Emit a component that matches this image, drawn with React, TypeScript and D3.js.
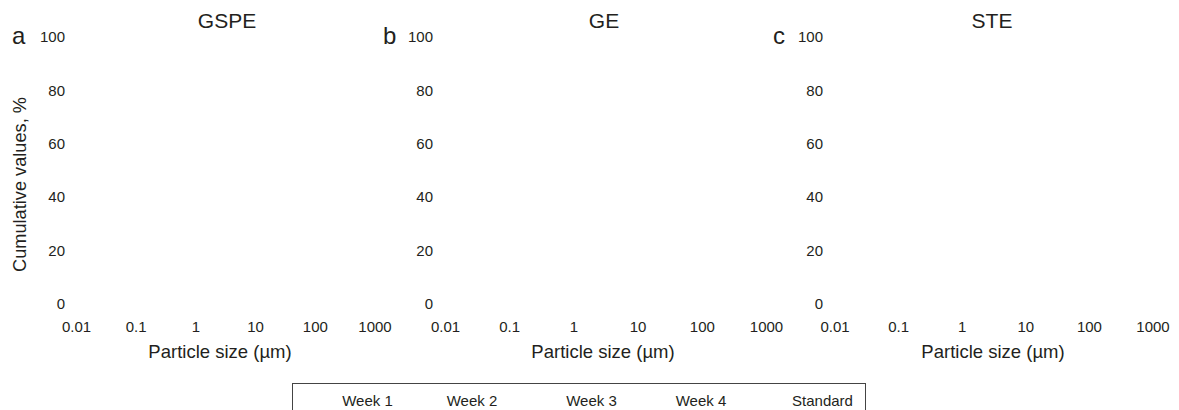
import React, { useEffect, useRef } from 'react';
import * as d3 from 'd3';

const panelTitles = ['GSPE', 'GE', 'STE'];
const panelLetters = ['a', 'b', 'c'];
const xTicks = [0.01, 0.1, 1, 10, 100, 1000];
const yTicks = [0, 20, 40, 60, 80, 100];
const legendLabels = ['Week 1', 'Week 2', 'Week 3', 'Week 4', 'Standard'];

const WIDTH = 1179;
const HEIGHT = 410;
const FONT = "'Liberation Sans', Arial, Helvetica, sans-serif";
const INK = '#231f20';

// per panel layout: x of first / last tick label, right edge of y labels, letter x, title centre
const panelLayout = [
  { x0: 76, x1: 374.5, yLab: 65, letter: 12, title: 227, axisTitle: 220 },
  { x0: 445, x1: 766, yLab: 433, letter: 383, title: 604, axisTitle: 603 },
  { x0: 834.5, x1: 1152.5, yLab: 823, letter: 773, title: 992, axisTitle: 993 },
];
const legendX = [367.5, 472, 591.5, 701, 822.5];

function ParticleCharts() {
  const svgRef = useRef<SVGSVGElement>(null);

  useEffect(() => {
    const svg = d3.select(svgRef.current);
    svg.selectAll('*').remove();

    const yScale = d3.scaleLinear().domain([0, 100]).range([303.5, 37]);

    panelTitles.forEach((title, i) => {
      const lay = panelLayout[i];
      const xScale = d3.scaleLog().domain([0.01, 1000]).range([lay.x0, lay.x1]);
      const g = svg.append('g');

      // y axis labels only
      const yAxis = g.append('g')
        .attr('transform', `translate(${lay.yLab},0)`)
        .call(d3.axisLeft(yScale).tickValues(yTicks).tickSize(0).tickPadding(0));
      yAxis.select('.domain').remove();

      // x axis labels only
      const xAxis = g.append('g')
        .attr('transform', 'translate(0,321)')
        .call(d3.axisBottom(xScale).tickValues(xTicks).tickSize(0).tickPadding(0).tickFormat(d => String(d)));
      xAxis.select('.domain').remove();

      g.selectAll('.tick text')
        .attr('font-family', FONT)
        .attr('font-size', 15)
        .attr('fill', INK);

      g.append('text')
        .attr('x', lay.title)
        .attr('y', 28)
        .attr('text-anchor', 'middle')
        .attr('font-family', FONT)
        .attr('font-size', 21)
        .attr('fill', INK)
        .text(title);

      g.append('text')
        .attr('x', lay.letter)
        .attr('y', 44)
        .attr('font-family', FONT)
        .attr('font-size', 24)
        .attr('fill', INK)
        .text(panelLetters[i]);

      g.append('text')
        .attr('x', lay.axisTitle)
        .attr('y', 358)
        .attr('text-anchor', 'middle')
        .attr('font-family', FONT)
        .attr('font-size', 18.5)
        .attr('fill', INK)
        .text('Particle size (\u00b5m)');
    });

    svg.append('text')
      .attr('transform', 'translate(26,184.5) rotate(-90)')
      .attr('text-anchor', 'middle')
      .attr('font-family', FONT)
      .attr('font-size', 18.2)
      .attr('fill', INK)
      .text('Cumulative values, %');

    // Legend box (cut off by bottom edge)
    const legend = svg.append('g');
    legend.append('rect')
      .attr('x', 292.5)
      .attr('y', 383.5)
      .attr('width', 573)
      .attr('height', 60)
      .attr('fill', 'none')
      .attr('stroke', '#444')
      .attr('stroke-width', 1);

    legend.selectAll('.leg')
      .data(legendLabels)
      .enter()
      .append('text')
      .attr('class', 'leg')
      .attr('x', (d, i) => legendX[i])
      .attr('y', 406)
      .attr('text-anchor', 'middle')
      .attr('font-family', FONT)
      .attr('font-size', 15)
      .attr('fill', INK)
      .text(d => d);
  }, []);

  return (
    <svg
      ref={svgRef}
      width={WIDTH}
      height={HEIGHT}
      style={{ position: 'absolute', left: 0, top: 0, background: '#fff' }}
    ></svg>
  );
}

export default function App() {
  return <ParticleCharts />;
}
